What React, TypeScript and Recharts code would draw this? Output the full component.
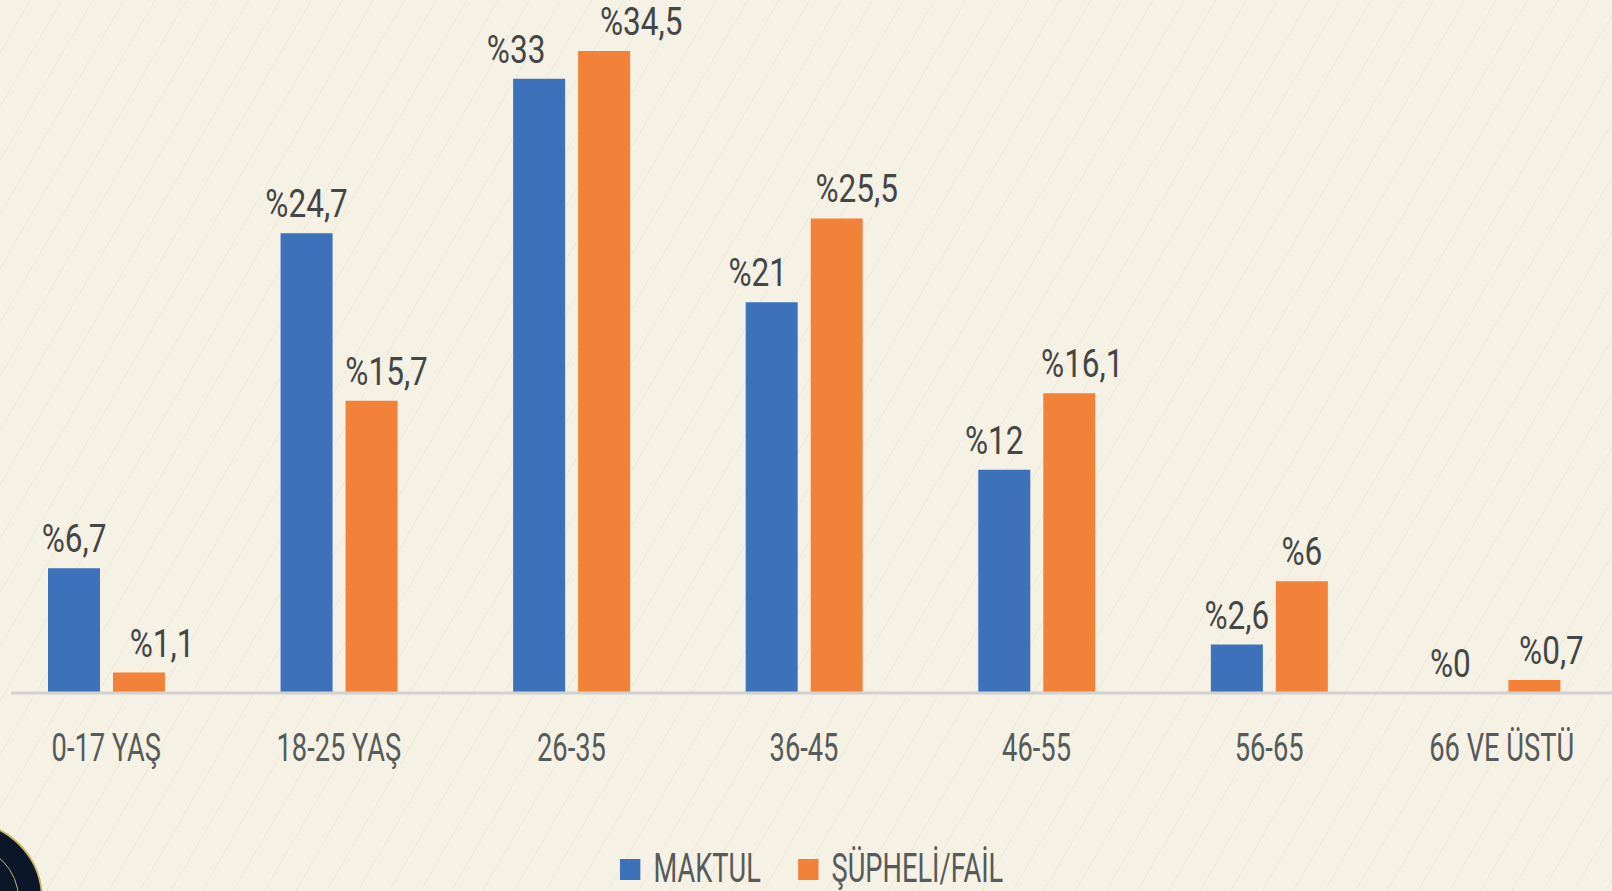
import React from 'react'
import { BarChart, Bar, XAxis, YAxis, Legend, LabelList } from 'recharts'

const categories = ['0-17 YAŞ', '18-25 YAŞ', '26-35', '36-45', '46-55', '56-65', '66 VE ÜSTÜ']
const maktul = [6.7, 24.7, 33, 21, 12, 2.6, 0]
const supheli = [1.1, 15.7, 34.5, 25.5, 16.1, 6, 0.7]
const yDomain = [0, 36]

// horizontal nudges of the value labels, as in the source layout
const maktulLabelDx = [0, 0, -23, -14, -10, 0, -19]
const supheliLabelDx = [23, 15, 37, 20, 13, 0, 17]

const data = categories.map((name, i) => ({ name, maktul: maktul[i], supheli: supheli[i] }))

const FONT = 'Roboto, "Liberation Sans", sans-serif'
const BLUE = '#3D72BA'
const ORANGE = '#F28239'
const BG = '#F5F1E4'

const fmt = (v: number) => '%' + String(v).replace('.', ',')

function ValueLabel(props: any) {
  const { x, y, width, value, index, nudge } = props
  const cx = Number(x) + Number(width) / 2 + (nudge?.[index] ?? 0)
  return (
    <text
      transform={`translate(${cx},${Number(y) - 16}) scale(0.83,1)`}
      textAnchor="middle"
      fontFamily={FONT}
      fontWeight={400}
      fontSize={38}
      fill="#444545"
    >
      {fmt(value)}
    </text>
  )
}

function CategoryTick(props: any) {
  const { x, y, payload } = props
  return (
    <text
      transform={`translate(${x},${Number(y) + 28}) scale(0.7,1)`}
      textAnchor="middle"
      fontFamily={FONT}
      fontWeight={400}
      fontSize={39}
      fill="#565a5a"
    >
      {payload.value}
    </text>
  )
}

function LegendContent(props: any) {
  const items = props.payload || []
  return (
    <div
      style={{
        display: 'flex', justifyContent: 'center', alignItems: 'center', height: 40,
        transform: 'scaleX(0.68)', paddingLeft: 8, fontFamily: FONT, fontWeight: 400, fontSize: 40, color: '#565a5a',
      }}
    >
      {items.map((it: any, i: number) => (
        <div key={i} style={{ display: 'flex', alignItems: 'center', marginLeft: i ? 55 : 0 }}>
          <span style={{ width: 30, height: 21, background: it.color, display: 'inline-block', marginRight: 19 }} />
          <span style={{ lineHeight: '40px' }}>{it.value}</span>
        </div>
      ))}
    </div>
  )
}

export default function App() {
  return (
    <div
      style={{
        position: 'fixed', left: 0, top: 0, width: 1612, height: 891, overflow: 'hidden',
        background: `repeating-linear-gradient(120deg, ${BG} 0px, ${BG} 26px, #ece8da 26px, #ece8da 27px)`,
      }}
    >
      <BarChart width={1618} height={891} data={data} margin={{ top: 23, right: 0, left: 11, bottom: 0 }} barGap={13}>
        <XAxis
          dataKey="name"
          interval={0}
          padding={{ left: -21, right: 0 }}
          axisLine={{ stroke: '#d1d1cf', strokeWidth: 3 }}
          tickLine={false}
          tickSize={0}
          tickMargin={40}
          height={198}
          tick={<CategoryTick />}
        />
        <YAxis hide domain={yDomain} />
        <Legend
          layout="horizontal"
          verticalAlign="middle"
          align="center"
          content={<LegendContent />}
          wrapperStyle={{ top: 849, left: 0, width: 1618, height: 40 }}
        />
        <Bar dataKey="maktul" name="MAKTUL" fill={BLUE} barSize={52} minPointSize={0.01} isAnimationActive={false}>
          <LabelList dataKey="maktul" content={<ValueLabel nudge={maktulLabelDx} />} />
        </Bar>
        <Bar dataKey="supheli" name="ŞÜPHELİ/FAİL" fill={ORANGE} barSize={52} isAnimationActive={false}>
          <LabelList dataKey="supheli" content={<ValueLabel nudge={supheliLabelDx} />} />
        </Bar>
      </BarChart>
      <div
        style={{
          position: 'absolute', left: -113, top: 821, width: 156, height: 156, borderRadius: '50%',
          background: '#0b1628', border: '2px solid #c9b46a', boxSizing: 'border-box',
        }}
      >
        <div
          style={{
            position: 'absolute', left: 22, top: 22, right: 22, bottom: 22, borderRadius: '50%',
            border: '1px solid #c9b46a',
          }}
        />
      </div>
    </div>
  )
}
